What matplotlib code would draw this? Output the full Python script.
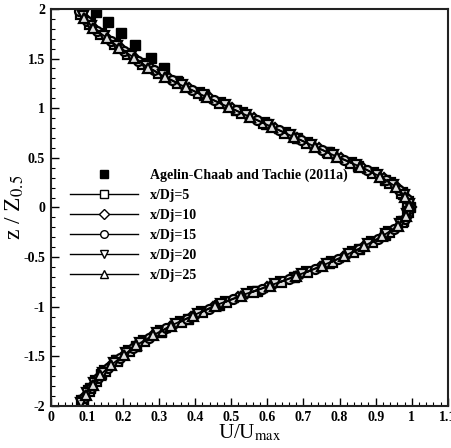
import matplotlib
matplotlib.use('Agg')
import matplotlib.pyplot as plt
from matplotlib.ticker import MultipleLocator

plt.rcParams.update({
    "font.family": "Liberation Serif",
    "mathtext.fontset": "stix",
    "font.size": 10,
    "xtick.direction": "in",
    "ytick.direction": "in",
})

# experiment: Agelin-Chaab and Tachie (2011a)
exp_z = [1.97, 1.87, 1.76, 1.64, 1.51, 1.40, 1.27, 1.13, 0.98, 0.84, 0.70, 0.56, 0.42, 0.28, 0.14, 0.0,
         -0.14, -0.28, -0.42, -0.56, -0.70, -0.84, -0.98, -1.12, -1.26, -1.40, -1.54, -1.68, -1.82, -1.94]
exp_u = [0.127, 0.160, 0.195, 0.233, 0.278, 0.315, 0.350, 0.425, 0.512, 0.597, 0.683, 0.765, 0.850, 0.925, 0.975, 0.995,
         0.975, 0.925, 0.855, 0.770, 0.675, 0.570, 0.465, 0.380, 0.305, 0.235, 0.185, 0.140, 0.110, 0.090]

# simulation, x/Dj = 5
z_5 = [1.95, 1.85, 1.75, 1.65, 1.55, 1.45, 1.35, 1.25, 1.15, 1.05, 0.95, 0.85, 0.75, 0.65, 0.55, 0.45, 0.35, 0.25, 0.15, 0.05,
       -0.05, -0.15, -0.25, -0.35, -0.45, -0.55, -0.65, -0.75, -0.85, -0.95, -1.05, -1.15, -1.25, -1.35, -1.45, -1.55, -1.65, -1.75, -1.85, -1.95]
u_5 = [0.085, 0.108, 0.140, 0.178, 0.215, 0.255, 0.300, 0.352, 0.410, 0.470, 0.530, 0.590, 0.650, 0.710, 0.770, 0.833, 0.893, 0.940, 0.973, 0.990,
       0.990, 0.973, 0.938, 0.890, 0.838, 0.778, 0.710, 0.638, 0.560, 0.485, 0.420, 0.360, 0.305, 0.258, 0.218, 0.183, 0.150, 0.125, 0.105, 0.088]

# x/Dj = 10
z_10 = [1.9, 1.8, 1.7, 1.6, 1.5, 1.4, 1.3, 1.2, 1.1, 1.0, 0.9, 0.8, 0.7, 0.6, 0.5, 0.4, 0.3, 0.2, 0.1, 0.0,
        -0.1, -0.2, -0.3, -0.4, -0.5, -0.6, -0.7, -0.8, -0.9, -1.0, -1.1, -1.2, -1.3, -1.4, -1.5, -1.6, -1.7, -1.8, -1.9]
u_10 = [0.097, 0.122, 0.158, 0.197, 0.236, 0.277, 0.327, 0.382, 0.442, 0.502, 0.562, 0.622, 0.683, 0.743, 0.803, 0.866, 0.922, 0.962, 0.988, 0.998,
        0.988, 0.962, 0.917, 0.866, 0.810, 0.745, 0.675, 0.598, 0.520, 0.450, 0.389, 0.331, 0.281, 0.236, 0.199, 0.165, 0.136, 0.114, 0.096]

# x/Dj = 15
z_15 = [1.98, 1.88, 1.78, 1.68, 1.58, 1.48, 1.38, 1.28, 1.18, 1.08, 0.98, 0.88, 0.78, 0.68, 0.58, 0.48, 0.38, 0.28, 0.18, 0.08,
        -0.02, -0.12, -0.22, -0.32, -0.42, -0.52, -0.62, -0.72, -0.82, -0.92, -1.02, -1.12, -1.22, -1.32, -1.42, -1.52, -1.62, -1.72, -1.82, -1.92]
u_15 = [0.079, 0.100, 0.128, 0.167, 0.203, 0.243, 0.285, 0.336, 0.392, 0.452, 0.512, 0.572, 0.632, 0.692, 0.752, 0.813, 0.876, 0.928, 0.965, 0.987,
        0.993, 0.980, 0.951, 0.905, 0.854, 0.797, 0.731, 0.660, 0.584, 0.506, 0.438, 0.378, 0.320, 0.271, 0.228, 0.193, 0.159, 0.131, 0.111, 0.093]

# x/Dj = 20
z_20 = [1.93, 1.83, 1.73, 1.63, 1.53, 1.43, 1.33, 1.23, 1.13, 1.03, 0.93, 0.83, 0.73, 0.63, 0.53, 0.43, 0.33, 0.23, 0.13, 0.03,
        -0.07, -0.17, -0.27, -0.37, -0.47, -0.57, -0.67, -0.77, -0.87, -0.97, -1.07, -1.17, -1.27, -1.37, -1.47, -1.57, -1.67, -1.77, -1.87, -1.97]
u_20 = [0.089, 0.113, 0.148, 0.185, 0.223, 0.263, 0.310, 0.364, 0.422, 0.482, 0.542, 0.602, 0.662, 0.722, 0.782, 0.846, 0.903, 0.948, 0.978, 0.992,
        0.988, 0.968, 0.929, 0.880, 0.827, 0.765, 0.696, 0.622, 0.544, 0.471, 0.408, 0.348, 0.295, 0.248, 0.210, 0.175, 0.144, 0.121, 0.101, 0.085]

# x/Dj = 25
z_25 = [1.91, 1.81, 1.71, 1.61, 1.51, 1.41, 1.31, 1.21, 1.11, 1.01, 0.91, 0.81, 0.71, 0.61, 0.51, 0.41, 0.31, 0.21, 0.11, 0.01,
        -0.09, -0.19, -0.29, -0.39, -0.49, -0.59, -0.69, -0.79, -0.89, -0.99, -1.09, -1.19, -1.29, -1.39, -1.49, -1.59, -1.69, -1.79, -1.89]
u_25 = [0.093, 0.117, 0.155, 0.190, 0.230, 0.270, 0.318, 0.374, 0.433, 0.493, 0.553, 0.613, 0.673, 0.733, 0.793, 0.857, 0.913, 0.955, 0.981, 0.993,
        0.985, 0.961, 0.918, 0.868, 0.813, 0.750, 0.680, 0.606, 0.526, 0.455, 0.394, 0.334, 0.283, 0.237, 0.202, 0.167, 0.137, 0.116, 0.097]

series = [
    (u_5, z_5, 's', 'x/Dj=5'),
    (u_10, z_10, 'D', 'x/Dj=10'),
    (u_15, z_15, 'o', 'x/Dj=15'),
    (u_20, z_20, 'v', 'x/Dj=20'),
    (u_25, z_25, '^', 'x/Dj=25'),
]

fig = plt.figure(figsize=(4.52, 4.48), dpi=100)
ax = fig.add_axes([0.112, 0.094, 0.879, 0.886])

ax.plot(exp_u, exp_z, linestyle='none', marker='s', markersize=6.5, color='black',
        label='Agelin-Chaab and Tachie (2011a)')
for u, z, m, lab in series:
    ms = 5.5 if m == 'D' else 6.5
    ax.plot(u, z, color='black', linewidth=1.3, marker=m, markersize=ms,
            markerfacecolor='#dddddd', markeredgecolor='black', markeredgewidth=1.6, label=lab)

ax.set_xlim(0, 1.1)
ax.set_ylim(-2, 2)
ax.xaxis.set_minor_locator(MultipleLocator(0.02))
ax.yaxis.set_minor_locator(MultipleLocator(0.1))
ax.tick_params(which='major', length=6, width=1, top=False, right=False, pad=4)
ax.tick_params(which='minor', length=3, width=0.8, top=False, right=False)

xt = [0, 0.1, 0.2, 0.3, 0.4, 0.5, 0.6, 0.7, 0.8, 0.9, 1, 1.1]
ax.set_xticks(xt)
ax.set_xticklabels(['0', '0.1', '0.2', '0.3', '0.4', '0.5', '0.6', '0.7', '0.8', '0.9', '1', '1.1'])
yt = [-2, -1.5, -1, -0.5, 0, 0.5, 1, 1.5, 2]
ax.set_yticks(yt)
ax.set_yticklabels(['-2', '-1.5', '-1', '-0.5', '0', '0.5', '1', '1.5', '2'])
for lbl in ax.get_xticklabels() + ax.get_yticklabels():
    lbl.set_fontweight('bold')
    lbl.set_fontsize(10)

for s in ax.spines.values():
    s.set_linewidth(1.5)
    s.set_color('#222222')

ax.set_xlabel(r'U/U$_{\mathrm{max}}$', fontsize=15, labelpad=-1)
ax.set_ylabel(r'z / Z$_{0.5}$', fontsize=17, labelpad=-2)

leg = ax.legend(loc='upper left', bbox_to_anchor=(0.049, 0.597), frameon=False,
                borderpad=0, borderaxespad=0, handlelength=4.9, handletextpad=0.85,
                labelspacing=0.5, prop={'weight': 'bold', 'size': 10})
leg.legend_handles[0].set_markersize(5.5)
for h in leg.legend_handles[1:]:
    h.set_markersize(5.5)
    h.set_markeredgewidth(1)
    h.set_markerfacecolor('white')
    h.set_linewidth(1)

fig.savefig('out.png', dpi=100)
